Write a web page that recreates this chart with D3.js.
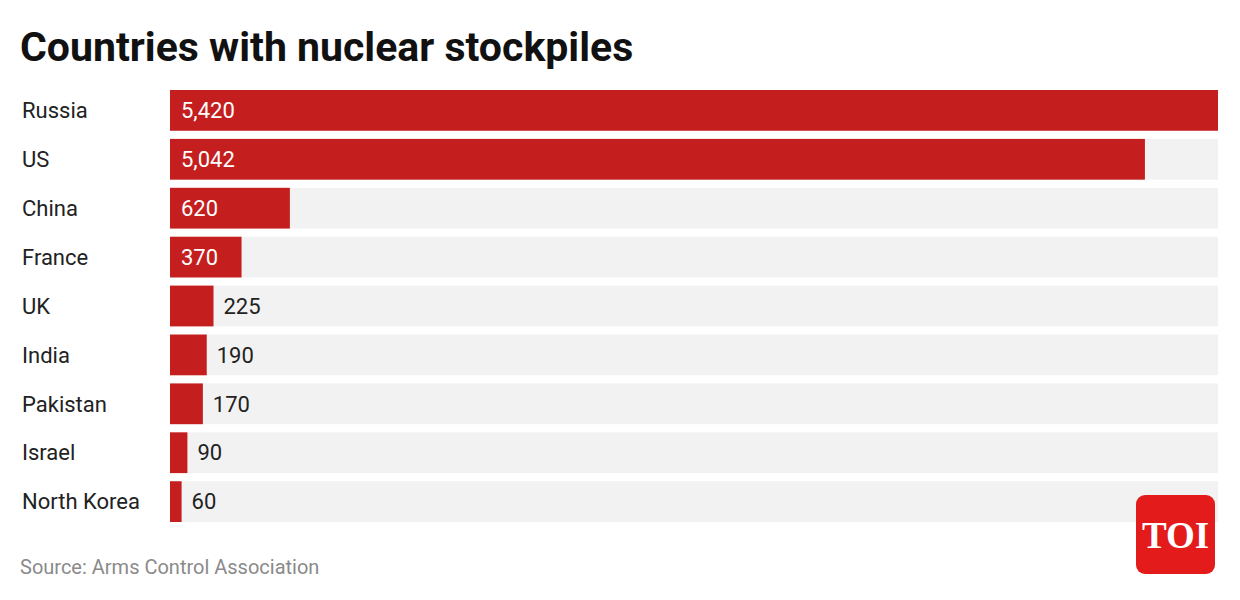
<!DOCTYPE html>
<html>
<head>
<meta charset="utf-8">
<script src="https://cdn.jsdelivr.net/npm/d3@7"></script>
<style>
  body { margin: 0; background: #fff; }
</style>
</head>
<body>
<div class="canvas"></div>
<script>
const countries = ['Russia', 'US', 'China', 'France', 'UK', 'India', 'Pakistan', 'Israel', 'North Korea'];
const warheads = [5420, 5042, 620, 370, 225, 190, 170, 90, 60];

const svg = d3.select('.canvas')
    .append('svg')
    .attr('width', 1240)
    .attr('height', 600);

svg.append('text')
    .attr('x', 20)
    .attr('y', 61)
    .attr('font-family', 'Roboto')
    .attr('font-weight', 700)
    .attr('font-size', 41)
    .attr('fill', '#111')
    .text('Countries with nuclear stockpiles');

const x = d3.scaleLinear()
    .domain([0, d3.max(warheads)])
    .range([170, 1218]);

const y = d3.scaleBand()
    .domain(countries)
    .range([90, 522])
    .paddingInner(8 / 48)
    .paddingOuter(0);

const rows = svg.selectAll('g.row')
    .data(countries.map((c, i) => ({ name: c, value: warheads[i] })))
    .enter()
    .append('g')
    .attr('class', 'row');

// grey track behind each bar
rows.append('rect')
    .attr('x', x(0))
    .attr('y', d => y(d.name))
    .attr('width', x.range()[1] - x(0))
    .attr('height', y.bandwidth())
    .attr('fill', '#f2f2f2');

rows.append('rect')
    .attr('x', x(0))
    .attr('y', d => y(d.name))
    .attr('width', d => x(d.value) - x(0))
    .attr('height', y.bandwidth())
    .attr('fill', '#c41e1e');

rows.append('text')
    .attr('x', 22)
    .attr('y', d => y(d.name) + y.bandwidth() / 2)
    .attr('dy', '0.35em')
    .attr('font-family', 'Roboto')
    .attr('font-size', 22)
    .attr('fill', '#222')
    .text(d => d.name);

// values: inside the bar when it is wide enough, otherwise just after it
const inside = d => x(d.value) - x(0) > 60;
rows.append('text')
    .attr('x', d => inside(d) ? x(0) + 11 : x(d.value) + 10)
    .attr('y', d => y(d.name) + y.bandwidth() / 2)
    .attr('dy', '0.35em')
    .attr('font-family', 'Roboto')
    .attr('font-size', 22)
    .attr('fill', d => inside(d) ? '#fff' : '#222')
    .text(d => d3.format(',')(d.value));

svg.append('text')
    .attr('x', 20)
    .attr('y', 574)
    .attr('font-family', 'Roboto')
    .attr('font-size', 20)
    .attr('fill', '#8a8a8a')
    .text('Source: Arms Control Association');

// TOI badge
const logo = svg.append('g').attr('transform', 'translate(1136, 495)');
logo.append('rect')
    .attr('width', 79)
    .attr('height', 79)
    .attr('rx', 9)
    .attr('fill', '#e31b1b');
logo.append('text')
    .attr('x', 39.5)
    .attr('y', 53)
    .attr('text-anchor', 'middle')
    .attr('font-family', 'Liberation Serif')
    .attr('font-weight', 700)
    .attr('font-size', 37)
    .attr('fill', '#fff')
    .text('TOI');
</script>
</body>
</html>
